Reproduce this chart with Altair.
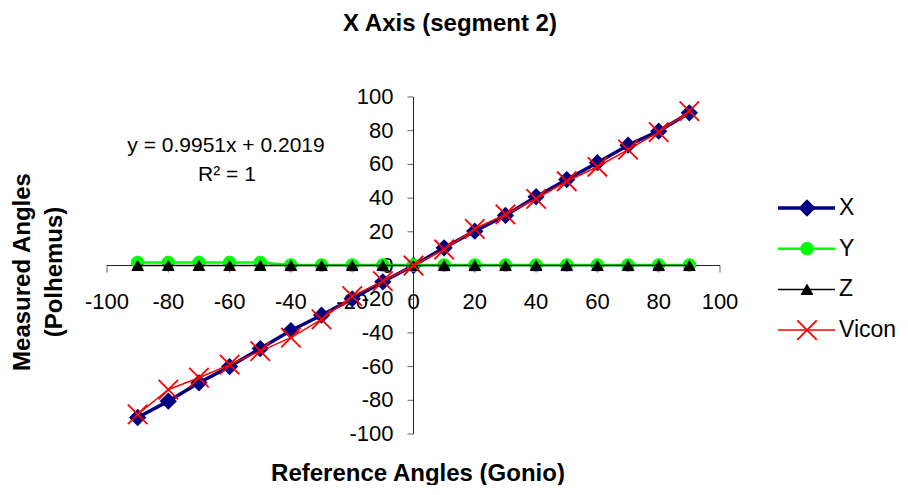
import altair as alt
import pandas as pd

FONT = "Liberation Sans"

# ---------------- data ----------------
angles = [-90, -80, -70, -60, -50, -40, -30, -20, -10, 0, 10, 20, 30, 40, 50, 60, 70, 80, 90]
x_vals = [-90.2, -80.5, -69.6, -60.0, -49.3, -38.6, -29.5, -19.8, -9.7, 0.0,
          10.5, 20.4, 29.7, 40.8, 51.0, 61.0, 71.4, 79.7, 90.6]
y_vals = [1.8, 1.8, 1.8, 1.8, 1.8, 0.3, 0.3, 0.3, 0.3, 0.3,
          0.3, 0.3, 0.3, 0.3, 0.3, 0.3, 0.3, 0.3, 0.3]
z_vals = [0.0, 0.0, 0.0, 0.0, 0.0, 0.0, 0.0, 0.0, 0.0, 0.0,
          0.0, 0.0, 0.0, 0.0, 0.0, 0.0, 0.0, 0.0, 0.0]
vicon_vals = [-88.4, -73.6, -66.6, -58.8, -50.8, -42.8, -32.0, -18.2, -9.3, 0.0,
              9.5, 21.8, 30.3, 39.6, 50.0, 58.6, 68.8, 79.1, 91.6]

series_names = ["X", "Y", "Z", "Vicon"]
series_values = [x_vals, y_vals, z_vals, vicon_vals]

tick_values = [-100, -80, -60, -40, -20, 0, 20, 40, 60, 80, 100]
tick_labels = [str(v) for v in tick_values]

chart_title = "X Axis (segment 2)"
x_title = "Reference Angles (Gonio)"
y_title_1 = "Measured Angles"
y_title_2 = "(Polhemus)"
eq_text = "y = 0.9951x + 0.2019"
r2_text = "R² = 1"

# ---------------- styles ----------------
series_colors = ["#000080", "#00FF00", "#000000", "#FF0000"]
series_shapes = ["diamond", "circle", "triangle-up", "M-1,-1L1,1M-1,1L1,-1"]
marker_sizes = {"X": 230, "Y": 160, "Z": 135, "Vicon": 380}
line_widths = {"X": 3.5, "Y": 2.5, "Z": 1.5, "Vicon": 1.5}
marker_strokes = {"X": 1.5, "Y": 1.0, "Z": 1.0, "Vicon": 1.8}
AXIS_COLOR = "#222222"
LEG_TOP, LEG_STEP = 111, 40.7
LEG_X0, LEG_X1, LEG_XM, LEG_XT = 671, 728, 700, 732

rows = []
for name, vals in zip(series_names, series_values):
    for a, v in zip(angles, vals):
        rows.append({"angle": a, "value": v, "series": name})
df = pd.DataFrame(rows)

xs = alt.Scale(domain=[-100, 100], nice=False, zero=False)
ys = alt.Scale(domain=[-100, 100], nice=False, zero=False)
color_scale = alt.Scale(domain=series_names, range=series_colors)
shape_scale = alt.Scale(domain=series_names, range=series_shapes)

X = alt.X("angle:Q", scale=xs, axis=None)
Y = alt.Y("value:Q", scale=ys, axis=None)

ticks_df = pd.DataFrame({"v": tick_values, "lab": tick_labels, "zero": [0] * len(tick_values)})
axis_df = pd.DataFrame({"lo": [-100], "hi": [100], "zero": [0]})

# ---------------- axes (crossing at zero) ----------------
axis_h = alt.Chart(axis_df).mark_rule(color=AXIS_COLOR, strokeWidth=1).encode(
    x=alt.X("lo:Q", scale=xs, axis=None), x2="hi:Q", y=alt.Y("zero:Q", scale=ys, axis=None))
axis_v = alt.Chart(axis_df).mark_rule(color=AXIS_COLOR, strokeWidth=1).encode(
    y=alt.Y("lo:Q", scale=ys, axis=None), y2="hi:Q", x=alt.X("zero:Q", scale=xs, axis=None))

x_ticks = alt.Chart(ticks_df).mark_tick(orient="vertical", size=7, thickness=1,
                                         yOffset=3.5, color=AXIS_COLOR).encode(
    x=alt.X("v:Q", scale=xs, axis=None), y=alt.Y("zero:Q", scale=ys, axis=None))
y_ticks = alt.Chart(ticks_df).mark_tick(orient="horizontal", size=6, thickness=1,
                                         xOffset=-3, color=AXIS_COLOR).encode(
    y=alt.Y("v:Q", scale=ys, axis=None), x=alt.X("zero:Q", scale=xs, axis=None))
x_labels = alt.Chart(ticks_df).mark_text(font=FONT, fontSize=22, align="center",
                                          baseline="middle", dy=36, color="black").encode(
    x=alt.X("v:Q", scale=xs, axis=None), y=alt.Y("zero:Q", scale=ys, axis=None), text="lab:N")
y_labels = alt.Chart(ticks_df).mark_text(font=FONT, fontSize=22, align="right",
                                          baseline="middle", dx=-20, color="black").encode(
    y=alt.Y("v:Q", scale=ys, axis=None), x=alt.X("zero:Q", scale=xs, axis=None), text="lab:N")

layers = [axis_h, axis_v, x_ticks, y_ticks, x_labels, y_labels]

# ---------------- series ----------------
for name in series_names:
    base = alt.Chart(df).transform_filter(alt.datum.series == name)
    line = base.mark_line(strokeJoin="round", strokeWidth=line_widths[name]).encode(
        x=X, y=Y,
        color=alt.Color("series:N", scale=color_scale, legend=None))
    pts = base.mark_point(filled=True, opacity=1, strokeWidth=marker_strokes[name],
                          size=marker_sizes[name]).encode(
        x=X, y=Y,
        fill=alt.Fill("series:N", scale=color_scale, legend=None),
        stroke=alt.Stroke("series:N", scale=color_scale, legend=None),
        shape=alt.Shape("series:N", scale=shape_scale, legend=None))
    layers += [line, pts]

# ---------------- legend ----------------
for i, name in enumerate(series_names):
    ly = LEG_TOP + i * LEG_STEP
    ldf = pd.DataFrame({"series": [name]})
    lb = alt.Chart(ldf)
    layers += [
        lb.mark_rule(strokeWidth=line_widths[name]).encode(
            x=alt.value(LEG_X0), x2=alt.value(LEG_X1), y=alt.value(ly),
            color=alt.Color("series:N", scale=color_scale, legend=None)),
        lb.mark_point(filled=True, opacity=1, strokeWidth=marker_strokes[name],
                      size=marker_sizes[name]).encode(
            x=alt.value(LEG_XM), y=alt.value(ly),
            fill=alt.Fill("series:N", scale=color_scale, legend=None),
            stroke=alt.Stroke("series:N", scale=color_scale, legend=None),
            shape=alt.Shape("series:N", scale=shape_scale, legend=None)),
        lb.mark_text(font=FONT, fontSize=23, align="left", baseline="middle",
                     color="black").encode(
            x=alt.value(LEG_XT), y=alt.value(ly), text="series:N"),
    ]

# ---------------- texts ----------------
def label(txt, x, y, size, bold=False, angle=0):
    tdf = pd.DataFrame({"t": [txt]})
    kw = dict(font=FONT, fontSize=size, align="center", baseline="middle", color="black")
    if bold:
        kw["fontWeight"] = "bold"
    if angle:
        kw["angle"] = angle
    return alt.Chart(tdf).mark_text(**kw).encode(x=alt.value(x), y=alt.value(y), text="t:N")

layers += [
    label(chart_title, 343, -73, 24, bold=True),
    label(x_title, 311, 377, 24, bold=True),
    label(y_title_1, -84, 175, 24, bold=True, angle=270),
    label(y_title_2, -52, 175, 24, bold=True, angle=270),
    label(eq_text, 119, 49, 21),
    label(r2_text, 120, 78, 21),
]

chart = alt.layer(*layers).properties(
    width=613, height=337,
    padding={"left": 99, "top": 89, "right": 178, "bottom": 51},
    autosize=alt.AutoSizeParams(type="none"),
    background="white",
).configure_view(stroke="transparent")

chart.save("out.html", embed_options={"renderer": "svg", "actions": False})
